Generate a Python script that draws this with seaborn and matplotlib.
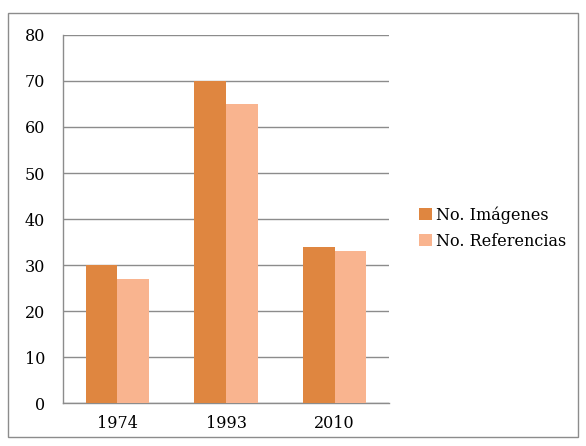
import numpy as np
import pandas as pd
import seaborn as sns
import matplotlib.pyplot as plt
from matplotlib.patches import Rectangle

years = ['1974', '1993', '2010']
imagenes = [30, 70, 34]
referencias = [27, 65, 33]
series = ['No. Imágenes', 'No. Referencias']
colors = ['#DF8640', '#F9B48F']

df = pd.DataFrame({
    'year': years * 2,
    'value': imagenes + referencias,
    'serie': [series[0]] * 3 + [series[1]] * 3,
})

sns.set_style('white')
plt.rcParams['font.family'] = ['DejaVu Serif']
plt.rcParams['text.color'] = 'black'
plt.rcParams['xtick.labelcolor'] = 'black'
plt.rcParams['ytick.labelcolor'] = 'black'

fig = plt.figure(figsize=(5.86, 4.46), dpi=100)
ax = fig.add_axes([63 / 586, 1 - 403 / 446, 326 / 586, 368 / 446])

sns.barplot(data=df, x='year', y='value', hue='serie', palette=colors,
            width=0.58, saturation=1, ax=ax, legend=True, zorder=3,
            linewidth=0)

ax.set_xlim(-0.5, 2.5)
ax.set_ylim(0, 80)
ax.set_yticks(range(0, 81, 10))
ax.yaxis.grid(True, color='#8c8c8c', linewidth=1, zorder=0)
ax.set_axisbelow(True)
ax.set_xlabel('')
ax.set_ylabel('')

for s in ['top', 'right']:
    ax.spines[s].set_visible(False)
for s in ['left', 'bottom']:
    ax.spines[s].set_color('#8c8c8c')
    ax.spines[s].set_linewidth(1)

ax.set_xticks([-0.5, 0.5, 1.5, 2.5], minor=True)
ax.tick_params(axis='x', which='major', length=0, pad=9, labelsize=11.5, labelcolor='black')
ax.tick_params(axis='x', which='minor', length=6, color='#8c8c8c', direction='out')
ax.tick_params(axis='y', length=6, color='#8c8c8c', direction='out', pad=7,
               labelsize=11.5, labelcolor='black')

leg = ax.legend(loc='center left', bbox_to_anchor=(419 / 586, 1 - 228 / 446),
                bbox_transform=fig.transFigure, frameon=False, fontsize=11.5,
                handlelength=0.8, handleheight=0.8, handletextpad=0.25,
                labelspacing=0.55, borderaxespad=0, borderpad=0)
for t in leg.get_texts():
    t.set_color('black')

fig.patches.append(Rectangle((8 / 586, 1 - 437 / 446), 570 / 586, 424 / 446,
                             transform=fig.transFigure, fill=False,
                             edgecolor='#8c8c8c', linewidth=1))

fig.savefig('out.png', dpi=100)
